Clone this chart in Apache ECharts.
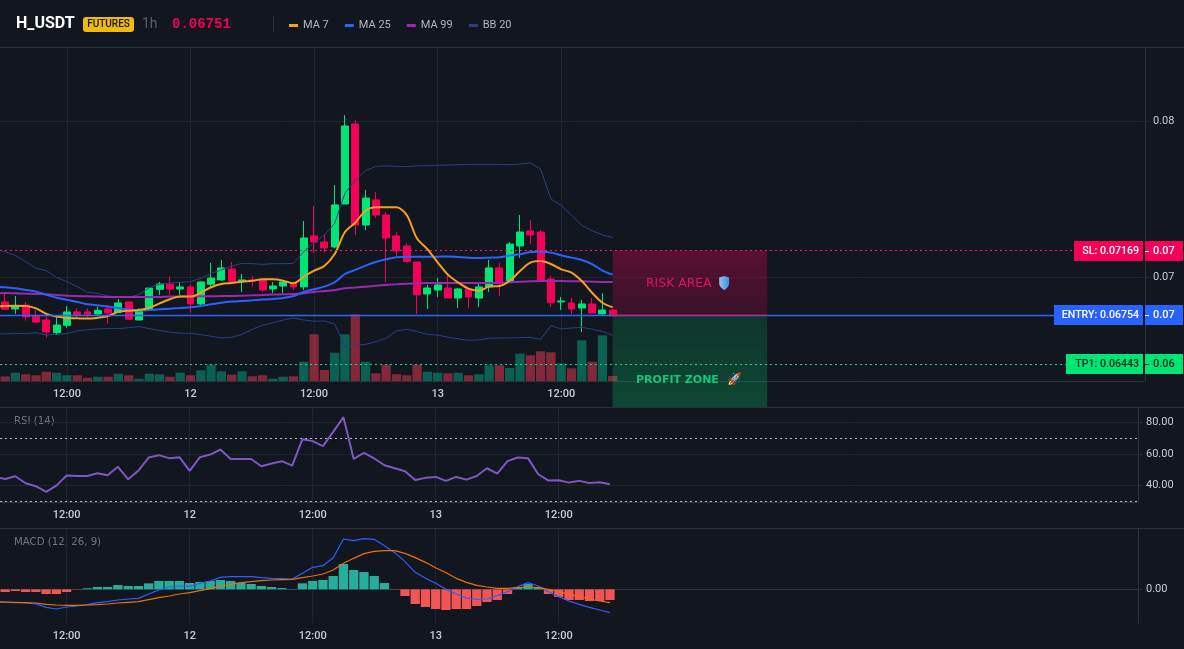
<!DOCTYPE html>
<html>
<head>
<meta charset="utf-8">
<title>H_USDT 1h</title>
<style>
  html, body { margin: 0; padding: 0; background: #12161f; }
  #chart { width: 1184px; height: 649px; }
</style>
<script src="https://cdn.jsdelivr.net/npm/echarts@6/dist/echarts.min.js"></script>
</head>
<body>
<div id="chart"></div>
<script>
// Candle values, one entry per hourly bar
const opens = [.06840,.06795,.06820,.06750,.06724,.06643,.06690,.06776,.06776,.06763,.06795,.06773,.06840,.06724,.06795,.06921,.06955,.06923,.06936,.06827,.06953,.06981,.07051,.06970,.06981,.06981,.06923,.06942,.06961,.06936,.07263,.07224,.07192,.07468,.07981,.07333,.07494,.07397,.07263,.07199,.07096,.06891,.06916,.06929,.06865,.06923,.06865,.06936,.07058,.06974,.07199,.07295,.07288,.06987,.06840,.06833,.06801,.06827,.06763,.06788];
const closes = [.06793,.06816,.06744,.06711,.06647,.06692,.06776,.06758,.06758,.06786,.06769,.06833,.06729,.06788,.06929,.06955,.06923,.06936,.06827,.06968,.06993,.07058,.06972,.06981,.06972,.06916,.06942,.06968,.06936,.07250,.07224,.07186,.07462,.07968,.07333,.07506,.07397,.07250,.07167,.07100,.06885,.06929,.06949,.06865,.06923,.06872,.06936,.07058,.06961,.07211,.07288,.07269,.06981,.06835,.06846,.06795,.06827,.06769,.06788,.06751];
const lows = [.06793,.06763,.06720,.06703,.06611,.06628,.06673,.06741,.06741,.06750,.06701,.06771,.06724,.06724,.06788,.06885,.06885,.06885,.06771,.06820,.06938,.06974,.06959,.06904,.06938,.06904,.06897,.06897,.06916,.06916,.07156,.07156,.07184,.07468,.07269,.07301,.07378,.06968,.07135,.07092,.06763,.06795,.06872,.06865,.06801,.06801,.06808,.06904,.06878,.06961,.07122,.07211,.06981,.06808,.06788,.06763,.06647,.06763,.06750,.06751];
const highs = [.06895,.06878,.06840,.06788,.06756,.06746,.06814,.06799,.06799,.06809,.06820,.06859,.06840,.06799,.06929,.06968,.07002,.06968,.06949,.06972,.07090,.07109,.07096,.07019,.07006,.06987,.06968,.06970,.06970,.07359,.07455,.07269,.07590,.08038,.08006,.07558,.07545,.07417,.07288,.07216,.07096,.06949,.06993,.07013,.06929,.06927,.06955,.07109,.07090,.07224,.07397,.07365,.07301,.07006,.06872,.06865,.06853,.06865,.06895,.06795];

// Traded volume per bar
const volumes = [4.5,8.3,6.7,5.7,9.3,8.3,5.7,5.7,3.3,4.3,4.3,7.3,5.7,2.3,7.3,6.7,4.3,8.3,5.7,10.7,16.3,9.7,6.3,9.7,4.7,5.7,2.3,4.3,4.7,19.3,46.7,11,28.3,46.7,66.7,19.3,7.7,16.3,6.7,5.7,16.3,9.3,8.3,7.7,8.3,5.7,6.7,15.7,15.7,13,27.3,25.7,29.7,28.7,17.7,12.7,40.7,19.3,45.7,5];

// Overlays; each starts one bar before the first visible candle
const ma7 = [.06810,.06814,.06816,.06814,.06799,.06763,.06746,.06737,.06735,.06733,.06739,.06750,.06776,.06784,.06788,.06801,.06831,.06857,.06874,.06874,.06899,.06934,.06955,.06961,.06970,.06976,.06985,.06985,.06976,.06959,.07002,.07041,.07070,.07147,.07288,.07348,.07425,.07447,.07447,.07447,.07397,.07246,.07179,.07094,.07015,.06964,.06925,.06912,.06938,.06942,.06976,.07038,.07092,.07102,.07083,.07049,.07028,.06974,.06899,.06835,.06806];
const ma25 = [.06938,.06934,.06927,.06917,.06906,.06885,.06867,.06853,.06840,.06825,.06818,.06810,.06801,.06791,.06784,.06788,.06793,.06797,.06801,.06806,.06814,.06825,.06835,.06842,.06846,.06850,.06855,.06859,.06865,.06878,.06904,.06921,.06938,.06966,.07019,.07045,.07073,.07096,.07113,.07126,.07130,.07130,.07130,.07130,.07132,.07128,.07124,.07122,.07124,.07126,.07137,.07145,.07160,.07162,.07156,.07139,.07124,.07109,.07083,.07041,.07015];
const ma99 = [.06895,.06897,.06895,.06893,.06891,.06889,.06885,.06880,.06878,.06876,.06874,.06872,.06872,.06872,.06872,.06872,.06872,.06874,.06874,.06876,.06876,.06876,.06878,.06878,.06880,.06882,.06885,.06887,.06889,.06891,.06895,.06904,.06910,.06917,.06927,.06932,.06938,.06944,.06949,.06953,.06957,.06959,.06961,.06961,.06961,.06961,.06961,.06961,.06961,.06961,.06966,.06970,.06972,.06974,.06974,.06974,.06972,.06972,.06970,.06968,.06968];
const bbUpper = [.07179,.07162,.07137,.07098,.07055,.07041,.06996,.06970,.06938,.06902,.06895,.06878,.06870,.06870,.06887,.06932,.06953,.06961,.06966,.06970,.06991,.07023,.07045,.07070,.07087,.07085,.07081,.07085,.07085,.07087,.07162,.07220,.07269,.07344,.07536,.07622,.07682,.07709,.07712,.07709,.07707,.07712,.07714,.07716,.07718,.07720,.07722,.07722,.07722,.07722,.07720,.07724,.07731,.07692,.07500,.07459,.07397,.07331,.07297,.07269,.07254];
const bbLower = [.06635,.06635,.06639,.06637,.06643,.06628,.06632,.06637,.06654,.06662,.06667,.06669,.06669,.06675,.06682,.06669,.06656,.06647,.06639,.06639,.06630,.06620,.06609,.06613,.06632,.06665,.06690,.06707,.06724,.06737,.06724,.06716,.06718,.06699,.06553,.06560,.06568,.06585,.06607,.06654,.06665,.06650,.06632,.06628,.06613,.06603,.06594,.06596,.06607,.06609,.06609,.06611,.06613,.06600,.06688,.06667,.06673,.06677,.06665,.06650,.06626];

// Oscillators
const rsi = [45.3,44.2,45.9,41.5,39.6,36.0,40.0,46.4,46.1,46.1,47.8,46.6,51.9,44.0,49.5,57.8,59.3,57.4,58.0,49.3,58.0,59.7,62.9,56.9,56.9,56.9,52.3,54.0,55.5,52.7,69.4,68.2,65.0,74.1,83.4,56.9,60.8,57.2,52.9,51.0,49.1,43.6,44.9,45.5,43.0,45.5,43.8,46.1,51.0,47.6,55.5,57.8,57.4,47.2,43.2,43.4,41.9,43.0,41.7,42.1,40.8];
const rsiBands = [70, 30];
const macdLine = [-.00038,-.00039,-.00040,-.00041,-.00044,-.00054,-.00059,-.00053,-.00050,-.00046,-.00040,-.00037,-.00032,-.00029,-.00027,-.00014,-.00002,.00007,.00010,.00009,.00018,.00025,.00036,.00038,.00038,.00038,.00035,.00033,.00032,.00031,.00048,.00066,.00071,.00095,.00151,.00146,.00152,.00150,.00131,.00110,.00083,.00051,.00033,.00018,0,-.00014,-.00026,-.00030,-.00029,-.00019,-.00007,.00008,.00020,.00010,-.00007,-.00022,-.00035,-.00045,-.00054,-.00062,-.00070];
const macdSignal = [-.00037,-.00038,-.00039,-.00040,-.00041,-.00045,-.00047,-.00048,-.00048,-.00047,-.00046,-.00044,-.00041,-.00039,-.00037,-.00031,-.00025,-.00020,-.00014,-.00010,-.00004,.00002,.00009,.00015,.00020,.00023,.00026,.00028,.00029,.00030,.00035,.00040,.00046,.00058,.00078,.00093,.00107,.00114,.00116,.00116,.00108,.00095,.00081,.00065,.00050,.00033,.00021,.00012,.00007,.00003,.00003,.00005,.00007,.00005,0,-.00007,-.00015,-.00022,-.00029,-.00035,-.00040];
const macdHist = [-.00008,-.00005,-.00008,-.00008,-.00014,-.00014,-.00008,-.00001,.00003,.00007,.00007,.00013,.00010,.00010,.00018,.00025,.00025,.00025,.00019,.00022,.00025,.00028,.00025,.00019,.00016,.00010,.00007,.00004,.00001,.00018,.00025,.00028,.00040,.00076,.00058,.00052,.00040,.00019,-.00001,-.00020,-.00044,-.00053,-.00059,-.00062,-.00059,-.00059,-.00050,-.00038,-.00032,-.00014,.00007,.00016,.00007,-.00014,-.00023,-.00032,-.00032,-.00035,-.00035,-.00032];

// Time axis: a hidden lead slot, 60 candles, then empty future bars
const timeMarks = { 6: '12:00', 18: '12', 30: '12:00', 42: '13', 54: '12:00' };
const barSlots = 111;
const categories = [''];
for (let i = 0; i < barSlots; i++) categories.push(timeMarks[i] || '');

// Trade plan
const levelValues = [0.07169, 0.06754, 0.06443];
const levelTags = ['SL: 0.07169', 'ENTRY: 0.06754', 'TP1: 0.06443'];
const zoneStart = 60, zoneEnd = 75;
const zoneBottom = 0.06167;
const priceTicks = [0.07, 0.08];

const COL = {
  bg: '#12161f', grid: '#20242f', axis: '#2b303b', text: '#c9ccd4', dim: '#6f7480',
  up: '#00e676', down: '#f50057', blue: '#2962ff'
};
const levelStyles = [
  { bg: COL.down, fg: '#ffffff', line: '#ff1a66', dash: [2, 3], width: 1, left: 1074 },
  { bg: COL.blue, fg: '#ffffff', line: '#2b66ff', dash: 'solid', width: 1.4, left: 1054 },
  { bg: COL.up, fg: '#062b1a', line: '#00e676', dash: [2, 3], width: 1, left: 1066 }
];
const uiFont = 'Roboto, "Noto Sans", sans-serif';
const wideFont = '"DejaVu Sans", sans-serif';
const shieldPath = 'M5 0 L10 1.5 L10 7 C10 10.5 7.5 12.5 5 14 C2.5 12.5 0 10.5 0 7 L0 1.5 Z';

const isMark = (i, v) => v !== '';
function timeAxis(gridIndex, showLabels) {
  return {
    type: 'category', gridIndex, data: categories, min: 1, boundaryGap: true,
    axisLine: { lineStyle: { color: COL.axis } },
    axisTick: { show: false, alignWithLabel: true },
    axisLabel: { show: showLabels, interval: isMark, color: COL.text, fontSize: 11, fontFamily: uiFont, fontWeight: 500, margin: 8 },
    splitLine: { show: true, interval: isMark, alignWithLabel: true, lineStyle: { color: COL.grid } }
  };
}
function valueAxis(gridIndex, min, max, ticks, digits, offset) {
  return {
    type: 'value', gridIndex, position: 'right', min, max, offset,
    axisLine: { show: true, lineStyle: { color: COL.axis } },
    axisTick: { show: true, length: 4, lineStyle: { color: COL.axis }, customValues: ticks },
    axisLabel: { color: COL.text, fontSize: 11, fontFamily: uiFont, margin: 8, customValues: ticks,
      formatter: v => v.toFixed(digits) },
    splitLine: { show: true, lineStyle: { color: COL.grid } }
  };
}
function overlay(name, values, color, width, smooth) {
  return { name, type: 'line', data: values, xAxisIndex: 0, yAxisIndex: 0, showSymbol: false, smooth,
    lineStyle: { color, width }, itemStyle: { color }, silent: true, z: 4 };
}

const chart = echarts.init(document.getElementById('chart'), null, { renderer: 'canvas' });

function renderZone(params, api) {
  const a = api.coord([api.value(0), api.value(2)]);
  const b = api.coord([api.value(1), api.value(3)]);
  const risk = params.dataIndex === 0;
  const fill = risk
    ? new echarts.graphic.LinearGradient(0, 0, 0, 1, [
        { offset: 0, color: 'rgba(245,0,87,0.32)' }, { offset: 1, color: 'rgba(245,0,87,0.16)' }])
    : new echarts.graphic.LinearGradient(0, 0, 0, 1, [
        { offset: 0, color: 'rgba(0,230,118,0.15)' }, { offset: 1, color: 'rgba(0,230,118,0.24)' }]);
  const children = [{ type: 'rect', shape: { x: a[0], y: a[1], width: b[0] - a[0], height: b[1] - a[1] }, style: { fill } }];
  if (risk) {
    children.push({ type: 'line', shape: { x1: a[0], y1: b[1], x2: b[0], y2: b[1] },
      style: { stroke: 'rgba(245,0,87,0.75)', lineWidth: 1.5 } });
    // Shield icon beside the risk label
    children.push({ type: 'path',
      shape: { pathData: shieldPath, layout: 'cover', x: a[0] + 106.5, y: (a[1] + b[1]) / 2 - 7, width: 10, height: 14 },
      style: { fill: new echarts.graphic.LinearGradient(0, 0, 1, 0, [
        { offset: 0, color: '#8fc5f5' }, { offset: 1, color: '#3b8fe0' }]) } });
  }
  return { type: 'group', children };
}

function renderLevelTag(params, api) {
  const i = params.dataIndex;
  const v = api.value(1);
  const y = Math.round(api.coord([1, v])[1]);
  const s = levelStyles[i];
  const h = 20;
  const tag = (x, w, text, tx, align, size) => [
    { type: 'rect', shape: { x, y: y - h / 2, width: w, height: h }, style: { fill: s.bg } },
    { type: 'text', style: { x: tx, y, text, fill: s.fg, fontSize: size, fontFamily: uiFont,
        fontWeight: 500, textAlign: align, textVerticalAlign: 'middle' } }
  ];
  return { type: 'group', children: [
    ...tag(s.left, 1143 - s.left, levelTags[i], 1139, 'right', 10.6),
    ...tag(1145, 38, v.toFixed(2), 1153, 'left', 11),
    { type: 'line', shape: { x1: 1145, y1: y + 0.5, x2: 1149, y2: y + 0.5 }, style: { stroke: s.fg, lineWidth: 1 } }
  ] };
}

const headerText = (x, text, style) => ({
  type: 'text', x, y: 24, silent: true,
  style: { text, textVerticalAlign: 'middle', fontFamily: uiFont, ...style }
});
const rule = y => ({ type: 'line', silent: true, shape: { x1: 0, y1: y + 0.5, x2: 1184, y2: y + 0.5 },
  style: { stroke: COL.axis, lineWidth: 1 } });

chart.setOption({
  animation: false,
  backgroundColor: COL.bg,
  textStyle: { fontFamily: uiFont },
  legend: {
    left: 284, top: 15, itemWidth: 9, itemHeight: 3, itemGap: 16, icon: 'rect', selectedMode: false,
    data: ['MA 7', 'MA 25', 'MA 99', 'BB 20'],
    textStyle: { color: '#b2b5be', fontSize: 11, fontFamily: uiFont }
  },
  grid: [
    { left: 0, width: 1143, top: 48, height: 333 },
    { left: 0, width: 1138, top: 408, height: 94 },
    { left: 0, width: 1138, top: 529, height: 94 }
  ],
  xAxis: [timeAxis(0, true), timeAxis(1, true), timeAxis(2, true)],
  yAxis: [
    valueAxis(0, 0.06333, 0.08468, priceTicks, 2, 2),
    { type: 'value', gridIndex: 0, min: 0, max: 333, show: false },
    valueAxis(1, 29.6, 89.2, [40, 60, 80], 2, 0),
    valueAxis(2, -0.00101, 0.00181, [0], 2, 0)
  ],
  graphic: [
    rule(47), rule(407), rule(528),
    headerText(16, 'H_USDT', { fill: '#ffffff', fontSize: 16, fontWeight: 700 }),
    { type: 'rect', silent: true, shape: { x: 83, y: 17, width: 51, height: 15, r: 3 }, style: { fill: '#f0b90b' } },
    { type: 'text', silent: true, x: 108.5, y: 24.5, style: { text: 'FUTURES', fill: '#14171f', fontSize: 10,
        fontWeight: 500, fontFamily: uiFont, textAlign: 'center', textVerticalAlign: 'middle' } },
    headerText(142, '1h', { fill: '#5b606c', fontSize: 14 }),
    headerText(172, '0.06751', { fill: COL.down, fontSize: 14, fontWeight: 700, fontFamily: '"Liberation Mono", monospace' }),
    { type: 'line', silent: true, shape: { x1: 273.5, y1: 16, x2: 273.5, y2: 32 }, style: { stroke: COL.axis } },
    { type: 'text', silent: true, x: 14, y: 421, style: { text: 'RSI (14)', fill: COL.dim, fontSize: 10.2,
        fontFamily: wideFont, textVerticalAlign: 'middle' } },
    { type: 'text', silent: true, x: 14, y: 542, style: { text: 'MACD (12, 26, 9)', fill: COL.dim, fontSize: 10.2,
        fontFamily: wideFont, textVerticalAlign: 'middle' } },
    { type: 'text', silent: true, z: 20, x: 646, y: 283.5, style: { text: 'RISK AREA', fill: '#e0125a', fontSize: 12.4,
        fontFamily: wideFont, textVerticalAlign: 'middle' } },
    { type: 'text', silent: true, z: 20, x: 636, y: 380, style: { text: 'PROFIT ZONE', fill: '#0fc878', fontSize: 11,
        fontWeight: 600, fontFamily: wideFont, textVerticalAlign: 'middle' } },
    { type: 'text', silent: true, z: 20, x: 727, y: 380, style: { text: '\uD83D\uDE80', fontSize: 12,
        fontFamily: wideFont, textVerticalAlign: 'middle' } }
  ],
  series: [
    {
      name: 'Volume', type: 'bar', xAxisIndex: 0, yAxisIndex: 1, barWidth: 9.3, silent: true, z: 1,
      data: [null].concat(volumes.map((v, i) => ({
        value: v,
        itemStyle: { color: closes[i] >= opens[i] ? 'rgba(0,200,150,0.42)' : 'rgba(240,60,85,0.5)' }
      })))
    },
    {
      name: 'Price', type: 'candlestick', xAxisIndex: 0, yAxisIndex: 0, barWidth: 7.4, silent: true, z: 3,
      data: [['-', '-', '-', '-']].concat(opens.map((o, i) => [o, closes[i], lows[i], highs[i]])),
      itemStyle: { color: COL.up, color0: COL.down, borderColor: COL.up, borderColor0: COL.down, borderWidth: 1 }
    },
    overlay('BB 20', bbUpper, '#2c3f85', 1, false),
    overlay('BB 20', bbLower, '#2c3f85', 1, false),
    overlay('MA 99', ma99, '#9c27b0', 2, 0.3),
    overlay('MA 25', ma25, '#2962ff', 2, 0.3),
    overlay('MA 7', ma7, '#f5a11f', 2, 0.3),
    {
      name: 'Levels', type: 'line', xAxisIndex: 0, yAxisIndex: 0, data: [], silent: true, z: 5,
      markLine: {
        silent: true, symbol: 'none', label: { show: false }, animation: false, precision: 5,
        data: levelValues.map((v, i) => ({
          yAxis: v,
          lineStyle: { color: levelStyles[i].line, type: levelStyles[i].dash, width: levelStyles[i].width, opacity: 1 }
        }))
      }
    },
    {
      name: 'Zones', type: 'custom', xAxisIndex: 0, yAxisIndex: 0, silent: true, z: 6, clip: false,
      renderItem: renderZone, encode: { x: [0, 1], y: [2, 3] },
      data: [
        [zoneStart, zoneEnd, levelValues[0], levelValues[1]],
        [zoneStart, zoneEnd, levelValues[1], zoneBottom]
      ]
    },
    {
      name: 'Level tags', type: 'custom', xAxisIndex: 0, yAxisIndex: 0, silent: true, z: 7, clip: false,
      renderItem: renderLevelTag, encode: { x: 0, y: 1 },
      data: levelValues.map(v => [1, v])
    },
    {
      name: 'RSI', type: 'line', xAxisIndex: 1, yAxisIndex: 2, data: rsi, showSymbol: false, silent: true,
      lineStyle: { color: '#7e57c2', width: 2 }, itemStyle: { color: '#7e57c2' },
      markLine: {
        silent: true, symbol: 'none', label: { show: false }, animation: false,
        lineStyle: { color: '#b4b7bf', type: [2, 3], width: 1 },
        data: rsiBands.map(v => ({ yAxis: v }))
      }
    },
    {
      name: 'Histogram', type: 'bar', xAxisIndex: 2, yAxisIndex: 3, barWidth: 9.3, silent: true,
      data: [null].concat(macdHist.map(v => ({ value: v, itemStyle: { color: v >= 0 ? '#26ad9c' : '#f25555' } })))
    },
    {
      name: 'MACD', type: 'line', xAxisIndex: 2, yAxisIndex: 3, data: macdLine, showSymbol: false, silent: true,
      lineStyle: { color: '#2962ff', width: 1.2 }, itemStyle: { color: '#2962ff' }, z: 4
    },
    {
      name: 'Signal', type: 'line', xAxisIndex: 2, yAxisIndex: 3, data: macdSignal, showSymbol: false, silent: true,
      lineStyle: { color: '#e8700f', width: 1.2 }, itemStyle: { color: '#e8700f' }, z: 4
    }
  ]
});
</script>
</body>
</html>
